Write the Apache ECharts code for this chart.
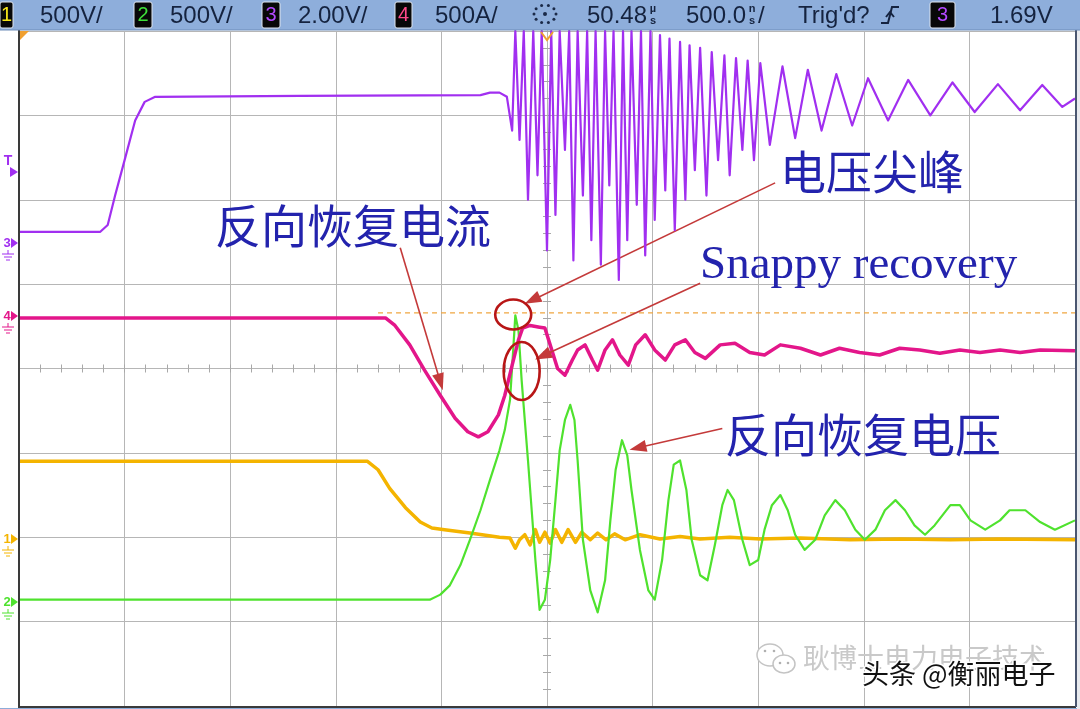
<!DOCTYPE html>
<html><head><meta charset="utf-8">
<script src="https://cdn.jsdelivr.net/npm/echarts@6/dist/echarts.min.js"></script>
<style>html,body{margin:0;padding:0;background:#fff}#c{width:1080px;height:709px}</style>
</head><body><div id="c"></div>
<script>
// Screen divisions: x 0..10 (500 ns/div), y 0..8 (bottom = 0)
const ch3Purple = [[0,5.62],[0.77,5.62],[0.84,5.70],[0.91,6.05],[1.00,6.47],[1.10,6.94],[1.19,7.16],[1.29,7.22],[2.66,7.23],[4.37,7.24],[4.46,7.27],[4.55,7.27],[4.62,7.22],[4.67,6.82],
[4.70,8.00],[4.74,6.71],[4.78,8.00],[4.82,6.00],[4.87,8.00],[4.91,6.29],[4.95,8.00],[5.00,5.40],[5.04,8.00],[5.08,5.82],[5.12,8.00],[5.17,6.59],[5.21,8.00],[5.25,5.28],[5.29,8.00],[5.34,6.05],[5.38,8.00],[5.42,5.52],[5.46,8.00],[5.51,5.23],[5.55,8.00],[5.59,6.17],[5.63,8.00],[5.68,5.05],[5.72,8.00],[5.76,5.52],[5.80,8.00],[5.85,5.94],[5.89,8.00],[5.93,5.34],[5.98,8.00],[6.02,5.76],[6.07,7.95],[6.12,6.11],[6.16,7.91],[6.21,5.64],[6.26,7.87],[6.31,6.00],[6.35,7.83],[6.40,6.35],[6.45,7.80],[6.51,6.05],[6.56,7.75],[6.62,6.47],[6.68,7.71],[6.73,6.29],[6.79,7.68],[6.85,6.59],[6.90,7.65],[6.96,6.47],[7.02,7.62],[7.11,6.65],[7.23,7.58],[7.35,6.73],[7.47,7.54],[7.60,6.82],[7.74,7.49],[7.89,6.88],[8.04,7.44],[8.23,6.94],[8.42,7.42],[8.63,7.00],[8.84,7.39],[9.05,7.04],[9.27,7.37],[9.48,7.06],[9.69,7.36],[9.88,7.10],[10.0,7.20]];
const ch4Magenta = [[0,4.60],[3.47,4.60],[3.56,4.51],[3.70,4.28],[3.84,3.98],[3.99,3.68],[4.13,3.41],[4.25,3.25],[4.35,3.19],[4.44,3.25],[4.54,3.45],[4.60,3.68],[4.67,4.04],[4.73,4.34],[4.77,4.48],[4.84,4.51],[4.93,4.49],[4.98,4.48],[5.03,4.28],[5.10,4.00],[5.17,3.92],[5.24,4.10],[5.29,4.22],[5.36,4.28],[5.43,4.10],[5.48,3.98],[5.55,4.22],[5.62,4.34],[5.69,4.16],[5.77,4.04],[5.84,4.28],[5.93,4.40],[6.02,4.22],[6.12,4.10],[6.21,4.28],[6.31,4.34],[6.40,4.19],[6.50,4.12],[6.64,4.28],[6.78,4.30],[6.92,4.19],[7.06,4.16],[7.21,4.28],[7.40,4.24],[7.59,4.16],[7.77,4.24],[7.96,4.19],[8.15,4.16],[8.34,4.24],[8.53,4.22],[8.72,4.18],[8.91,4.22],[9.10,4.19],[9.29,4.22],[9.48,4.19],[9.67,4.22],[10.0,4.21]];
const ch1Yellow = [[0,2.90],[3.30,2.90],[3.40,2.80],[3.51,2.58],[3.66,2.35],[3.80,2.18],[3.91,2.11],[4.03,2.09],[4.27,2.05],[4.55,2.00],[4.65,1.99],[4.70,1.87],[4.74,1.97],[4.79,2.03],[4.84,1.91],[4.89,2.09],[4.93,1.94],[4.98,2.06],[5.03,1.93],[5.08,2.09],[5.14,1.94],[5.20,2.09],[5.27,1.94],[5.33,2.06],[5.41,1.97],[5.48,2.05],[5.56,1.97],[5.64,2.04],[5.74,1.97],[5.88,2.03],[6.07,1.98],[6.26,2.01],[6.45,1.98],[6.73,2.00],[7.02,1.98],[7.40,1.99],[7.87,1.97],[8.34,1.98],[8.82,1.97],[9.29,1.98],[10.0,1.97]];
const ch2Green = [[0,1.26],[3.89,1.26],[3.99,1.32],[4.08,1.43],[4.18,1.67],[4.27,1.97],[4.37,2.32],[4.46,2.68],[4.55,3.03],[4.60,3.27],[4.65,3.63],[4.68,4.22],[4.70,4.63],[4.73,4.45],[4.76,3.86],[4.82,2.91],[4.89,1.73],[4.93,1.14],[4.98,1.26],[5.03,1.73],[5.08,2.44],[5.12,3.03],[5.17,3.39],[5.22,3.57],[5.26,3.39],[5.29,2.91],[5.34,1.97],[5.41,1.37],[5.48,1.11],[5.55,1.49],[5.60,2.20],[5.65,2.80],[5.71,3.15],[5.76,2.97],[5.80,2.56],[5.88,1.85],[5.96,1.37],[6.02,1.26],[6.09,1.73],[6.15,2.44],[6.20,2.86],[6.26,2.91],[6.32,2.56],[6.37,1.97],[6.45,1.55],[6.52,1.49],[6.59,1.91],[6.66,2.38],[6.71,2.56],[6.77,2.44],[6.85,1.97],[6.92,1.67],[7.00,1.73],[7.06,2.09],[7.13,2.38],[7.21,2.50],[7.28,2.32],[7.35,2.03],[7.44,1.85],[7.54,1.97],[7.63,2.26],[7.73,2.44],[7.82,2.32],[7.92,2.09],[8.01,1.97],[8.11,2.09],[8.20,2.32],[8.30,2.44],[8.39,2.32],[8.48,2.14],[8.58,2.03],[8.67,2.14],[8.82,2.38],[8.91,2.38],[9.01,2.20],[9.15,2.09],[9.29,2.20],[9.38,2.32],[9.53,2.32],[9.67,2.18],[9.81,2.09],[10.0,2.20]];
const triggerLevel = [[3.40,4.66],[10.0,4.66]];
// annotation arrows [from, to] and ellipses [center] in division units
const arrows = [[[3.61,5.43],[3.99,3.84]],[[7.16,6.20],[4.86,4.81]],[[6.45,5.01],[4.96,4.15]],[[6.66,3.29],[5.86,3.06]]];
const ellipses = [[4.68,4.64,18,15],[4.76,3.97,18,29]];
const labels = ['反向恢复电流','电压尖峰','Snappy recovery','反向恢复电压'];
const headerTexts = ['500V/','500V/','2.00V/','500A/','50.48','500.0','Trig\'d?','1.69V'];
const badges = ['1','2','3','4','3'];

const C = {purple:'#a12ff0', magenta:'#e3168a', yellow:'#f4b400', green:'#4fe22e', grid:'#b6b6b6'};
const chart = echarts.init(document.getElementById('c'));
const G = {left:19, top:31, width:1056, height:675};
function tickAxis(g, min, max, inside, extra){
  return Object.assign({gridIndex:g, type:'value', min:min, max:max, interval:0.2,
    axisLine:{show:true, onZero:true, lineStyle:{color:C.grid, width:1}},
    axisTick:{show:true, inside:inside, length:4, lineStyle:{color:'#a8a8a8'}},
    axisLabel:{show:false}, splitLine:{show:false}}, extra||{});
}
const lineS = (name, data, color, w, z) => ({name, type:'line', data, xAxisIndex:0, yAxisIndex:0, showSymbol:false, symbol:'none', clip:true, z:z,
  lineStyle:{color, width:w, join:'round'}, silent:true, animation:false});
chart.setOption({
  animation:false,
  backgroundColor:'#ffffff',
  grid:[Object.assign({},G), Object.assign({},G), Object.assign({},G)],
  xAxis:[
    {gridIndex:0, type:'value', min:0, max:10, interval:1, axisLine:{show:false}, axisTick:{show:false}, axisLabel:{show:false}, splitLine:{show:true, lineStyle:{color:C.grid, width:1}}},
    tickAxis(1,-5,5,true), tickAxis(2,-5,5,false)
  ],
  yAxis:[
    {gridIndex:0, type:'value', min:0, max:8, interval:1, axisLine:{show:false}, axisTick:{show:false}, axisLabel:{show:false}, splitLine:{show:true, lineStyle:{color:C.grid, width:1}}},
    tickAxis(1,-4,4,true), tickAxis(2,-4,4,false)
  ],
  series:[
    {type:'line', data:triggerLevel, showSymbol:false, symbol:'none', z:1, lineStyle:{color:'#f0a640', width:1.2, type:[5,4]}, silent:true},
    lineS('ch1', ch1Yellow, C.yellow, 3.5, 2),
    lineS('ch2', ch2Green, C.green, 2.2, 3),
    lineS('ch4', ch4Magenta, C.magenta, 3.5, 4),
    lineS('ch3', ch3Purple, C.purple, 2.2, 5),
    {type:'line', data:[], z:10, markLine:{silent:true, animation:false, symbol:['none','triangle'], symbolSize:[12,17],
      label:{show:false}, itemStyle:{color:'#e00000'}, lineStyle:{color:'#c43a3a', width:1.6, type:'solid'},
      data: arrows.map(a=>[{coord:a[0]},{coord:a[1]}])}}
  ]
});

// graphics
const gr = [];
const px = p => chart.convertToPixel({xAxisIndex:0, yAxisIndex:0}, p);
ellipses.forEach(e=>{ const c = px([e[0],e[1]]);
  gr.push({type:'ellipse', z:20, shape:{cx:c[0], cy:c[1], rx:e[2], ry:e[3]}, style:{fill:null, stroke:'#b81616', lineWidth:2.6}}); });
// borders
gr.push({type:'line', z:30, shape:{x1:19, y1:30, x2:19, y2:707}, style:{stroke:'#3a3a3a', lineWidth:2}});
gr.push({type:'line', z:30, shape:{x1:18, y1:707, x2:1076, y2:707}, style:{stroke:'#3a3a3a', lineWidth:2}});
gr.push({type:'line', z:30, shape:{x1:1076, y1:30, x2:1076, y2:707}, style:{stroke:'#4a5670', lineWidth:2}});
gr.push({type:'rect', z:29, shape:{x:0, y:708, width:1080, height:2}, style:{fill:'#8dadd9'}});
gr.push({type:'rect', z:29, shape:{x:1077, y:30, width:3, height:679}, style:{fill:'#e8eaee'}});
// header
gr.push({type:'rect', z:30, shape:{x:0, y:0, width:1080, height:30}, style:{fill:'#8eaedb'}});
gr.push({type:'line', z:31, shape:{x1:0, y1:30, x2:1080, y2:30}, style:{stroke:'#6d8cb8', lineWidth:1}});
const badgePos = [[0,13,'#f6e51a'],[134,18,'#3fe03a'],[262,18,'#b349ff'],[395,17,'#ff4a8a'],[930,25,'#b349ff']];
badges.forEach((b,i)=>{ const p = badgePos[i];
  gr.push({type:'rect', z:31, shape:{x:p[0], y:2, width:p[1], height:26, r:2}, style:{fill:'#080808', stroke:'#dfe6f0', lineWidth:1}});
  gr.push({type:'text', z:32, style:{text:b, x:p[0]+p[1]/2, y:15, align:'center', verticalAlign:'middle', font:'20px "Liberation Sans"', fill:p[2]}}); });
const hPos = [40,170,298,435,587,686,798,990];
headerTexts.forEach((t,i)=>{ gr.push({type:'text', z:32, style:{text:t, x:hPos[i], y:16, verticalAlign:'middle', font:'24px "Liberation Sans"', fill:'#15233f'}}); });
[['µ',653,9],['s',653,21],['n',752,9],['s',752,21]].forEach(s=>gr.push({type:'text', z:32, style:{text:s[0], x:s[1], y:s[2], align:'center', verticalAlign:'middle', font:'bold 11px "Liberation Sans"', fill:'#15233f'}}));
gr.push({type:'text', z:32, style:{text:'/', x:758, y:16, verticalAlign:'middle', font:'24px "Liberation Sans"', fill:'#15233f'}});
// acquisition icon
for(let k=0;k<10;k++){ const a=k/10*Math.PI*2; gr.push({type:'circle', z:32, shape:{cx:545+Math.cos(a)*11, cy:14+Math.sin(a)*9, r:1.5}, style:{fill:'#1b2a48'}}); }
gr.push({type:'circle', z:32, shape:{cx:545, cy:14, r:2}, style:{fill:'#1b2a48'}});
// trigger edge symbol
gr.push({type:'polyline', z:32, shape:{points:[[881,23],[888,23],[892,7],[899,7]]}, style:{stroke:'#15233f', lineWidth:2, fill:null}});
gr.push({type:'polyline', z:32, shape:{points:[[886,17],[890,12],[894,17]]}, style:{stroke:'#15233f', lineWidth:2, fill:null}});
// orange markers
gr.push({type:'polygon', z:31, shape:{points:[[20,31],[29,31],[20,40]]}, style:{fill:'#f0a030'}});
gr.push({type:'polyline', z:31, shape:{points:[[541,32],[547,40],[553,32]]}, style:{stroke:'#f0a030', lineWidth:2, fill:null}});
// left channel markers
function ground(x,y,c){ return [
  {type:'line', z:31, shape:{x1:x, y1:y, x2:x, y2:y+4}, style:{stroke:c, lineWidth:1}},
  {type:'line', z:31, shape:{x1:x-6, y1:y+4, x2:x+6, y2:y+4}, style:{stroke:c, lineWidth:1}},
  {type:'line', z:31, shape:{x1:x-4, y1:y+7, x2:x+4, y2:y+7}, style:{stroke:c, lineWidth:1}},
  {type:'line', z:31, shape:{x1:x-2, y1:y+10, x2:x+2, y2:y+10}, style:{stroke:c, lineWidth:1}} ]; }
function marker(lbl,y,c,gnd){
  gr.push({type:'text', z:31, style:{text:lbl, x:7, y:y, align:'center', verticalAlign:'middle', font:'bold 13px "Liberation Sans"', fill:c}});
  gr.push({type:'polygon', z:31, shape:{points:[[11,y-5],[18,y],[11,y+5]]}, style:{fill:c}});
  if(gnd) ground(8,y+7,c).forEach(g=>gr.push(g));
}
gr.push({type:'text', z:31, style:{text:'T', x:8, y:161, align:'center', verticalAlign:'middle', font:'bold 14px "Liberation Sans"', fill:C.purple}});
gr.push({type:'polygon', z:31, shape:{points:[[10,167],[18,172],[10,177]]}, style:{fill:C.purple}});
marker('3',243,C.purple,true);
marker('4',316,C.magenta,true);
marker('1',539,C.yellow,true);
marker('2',602,C.green,true);
// annotation labels
const cjk = '"Noto Sans CJK SC"';
const lblPos = [[215,226,'46px '+cjk],[780,172,'46px '+cjk],[700,266,'47px "Liberation Serif"'],[725,435,'46px '+cjk]];
labels.forEach((t,i)=>gr.push({type:'text', z:25, style:{text:t, x:lblPos[i][0], y:lblPos[i][1], verticalAlign:'middle', font:lblPos[i][2], fill:'#2323ad'}}));
// watermark
gr.push({type:'ellipse', z:25, shape:{cx:770, cy:655, rx:13, ry:11}, style:{fill:'#fff', stroke:'#c4c4c4', lineWidth:1.5}});
gr.push({type:'ellipse', z:26, shape:{cx:784, cy:664, rx:11, ry:9}, style:{fill:'#fff', stroke:'#c4c4c4', lineWidth:1.5}});
[[765,651],[774,651],[780,663],[788,663]].forEach(d=>gr.push({type:'circle', z:27, shape:{cx:d[0], cy:d[1], r:1.3}, style:{fill:'#b0b0b0'}}));
gr.push({type:'text', z:25, style:{text:'耿博士电力电子技术', x:803, y:658, verticalAlign:'middle', font:'27px '+cjk, fill:'#c9c9c9'}});
gr.push({type:'text', z:27, style:{text:'头条 @衡丽电子', x:862, y:674, verticalAlign:'middle', font:'27px '+cjk, fill:'#111', stroke:'#fff', lineWidth:3, textShadowColor:'rgba(0,0,0,0.35)', textShadowOffsetX:1, textShadowOffsetY:1}});
chart.setOption({graphic:gr});
</script></body></html>
